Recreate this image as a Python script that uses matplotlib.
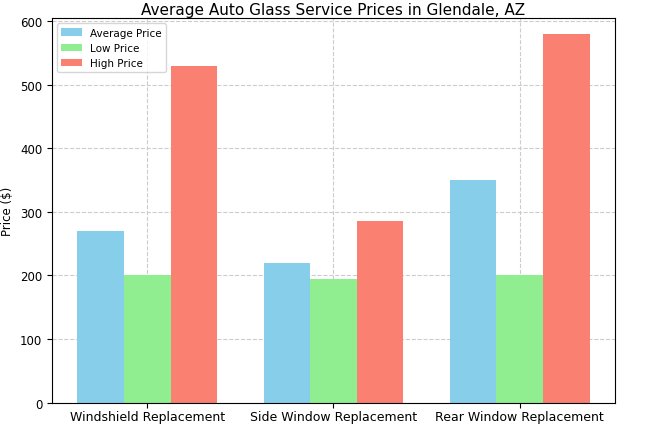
import numpy as np
import matplotlib.pyplot as plt

services = ["Windshield Replacement", "Side Window Replacement", "Rear Window Replacement"]
avg_price = [270, 220, 350]
low_price = [200, 195, 200]
high_price = [530, 285, 580]

plt.rcParams["font.size"] = 8.5

fig, ax = plt.subplots(figsize=(6.65, 4.27), dpi=100)
fig.subplots_adjust(left=0.078, right=0.925, top=0.955, bottom=0.055)

x = np.arange(len(services))
w = 0.25
ax.bar(x - w, avg_price, w, color="#87ceeb", label="Average Price")
ax.bar(x, low_price, w, color="#90ee90", label="Low Price")
ax.bar(x + w, high_price, w, color="#fa8072", label="High Price")

ax.set_xticks(x)
ax.set_xticklabels(services, fontsize=9)
ax.tick_params(axis="x", pad=2)
ax.set_ylim(0, 605)
ax.set_ylabel("Price ($)")
ax.set_title("Average Auto Glass Service Prices in Glendale, AZ", fontsize=11, pad=3)
ax.grid(True, linestyle="--", color="#cccccc", linewidth=0.8)
ax.set_axisbelow(True)
ax.legend(loc="upper left", fontsize=7.5)

fig.savefig("out.png")
